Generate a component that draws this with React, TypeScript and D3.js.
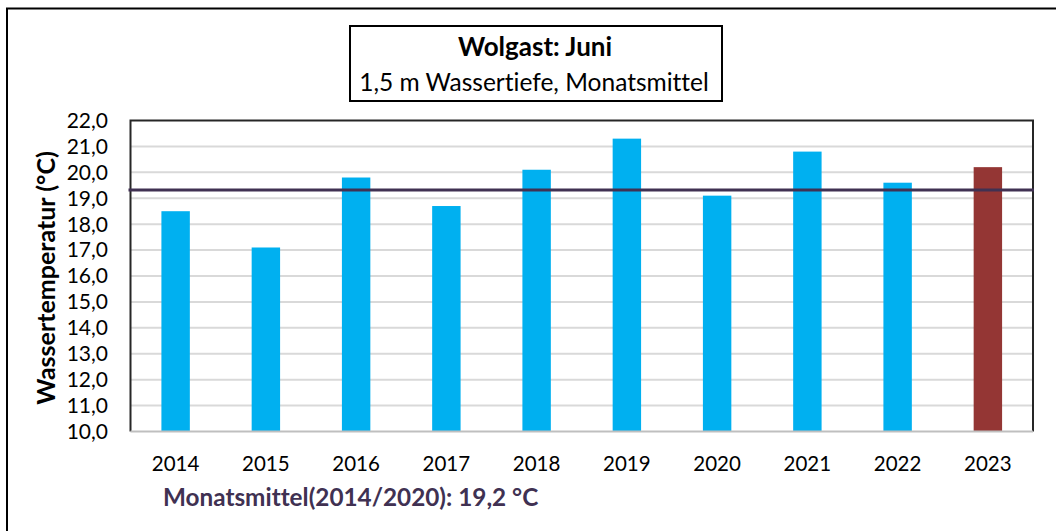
import React, { useEffect, useRef } from 'react';
import * as d3 from 'd3';

const years = ['2014', '2015', '2016', '2017', '2018', '2019', '2020', '2021', '2022', '2023'];
const temps = [18.5, 17.1, 19.8, 18.7, 20.1, 21.3, 19.1, 20.8, 19.6, 20.2];
const yTicks = [10, 11, 12, 13, 14, 15, 16, 17, 18, 19, 20, 21, 22];
const meanLine = 19.32;
const meanLabel = 'Monatsmittel(2014/2020): 19,2 °C';
const titleLines = ['Wolgast: Juni', '1,5 m Wassertiefe, Monatsmittel'];

const FONT = 'Lato, "Noto Sans", sans-serif';

const App = () => {
  const svgRef = useRef<SVGSVGElement>(null);

  useEffect(() => {
    const svg = d3.select(svgRef.current);
    svg.selectAll('*').remove();

    const W = 1056, H = 531;
    const left = 130.5, top = 120.5, right = 1033, bottom = 431.5;

    // outer frame
    svg.append('rect')
      .attr('x', 7).attr('y', 8.5).attr('width', 1100).attr('height', 600)
      .attr('fill', 'white').attr('stroke', 'black').attr('stroke-width', 2);

    const x = d3.scaleBand().domain(years).range([left, right]).paddingInner(0.685).paddingOuter(0.3425);
    const y = d3.scaleLinear().domain([10, 22]).range([bottom, top]);

    // gridlines
    svg.append('g').selectAll('line')
      .data(yTicks.filter(t => t > 10 && t < 22))
      .enter().append('line')
      .attr('x1', left).attr('x2', right)
      .attr('y1', d => y(d)).attr('y2', d => y(d))
      .attr('stroke', '#d9d9d9').attr('stroke-width', 2);

    // bars
    svg.append('g').selectAll('rect')
      .data(years)
      .enter().append('rect')
      .attr('x', d => x(d)!)
      .attr('width', x.bandwidth())
      .attr('y', (d, i) => y(temps[i]))
      .attr('height', (d, i) => y(10) - y(temps[i]))
      .attr('fill', d => (d === '2023' ? '#943634' : '#00b0f0'));

    // plot frame
    svg.append('path')
      .attr('d', `M${left},${bottom}V${top}H${right}V${bottom}`)
      .attr('fill', 'none').attr('stroke', '#262626').attr('stroke-width', 2);
    svg.append('line')
      .attr('x1', left).attr('x2', right).attr('y1', bottom).attr('y2', bottom)
      .attr('stroke', '#bfbfbf').attr('stroke-width', 2);

    // mean line
    svg.append('line')
      .attr('x1', left - 2).attr('x2', right + 1)
      .attr('y1', y(meanLine)).attr('y2', y(meanLine))
      .attr('stroke', '#403152').attr('stroke-width', 3);

    const txt = (g: any) => g.attr('font-family', FONT).style('font-variant-ligatures', 'none');

    // y tick labels
    svg.append('g').call(txt).selectAll('text')
      .data(yTicks)
      .enter().append('text')
      .attr('x', 108).attr('y', d => y(d))
      .attr('dy', '0.35em')
      .attr('text-anchor', 'end')
      .attr('font-size', 21)
      .text(d => d.toFixed(1).replace('.', ','));

    // x labels
    svg.append('g').call(txt).selectAll('text')
      .data(years)
      .enter().append('text')
      .attr('x', d => x(d)! + x.bandwidth() / 2).attr('y', 471)
      .attr('text-anchor', 'middle')
      .attr('font-size', 20.5)
      .text(d => d);

    // y axis title
    svg.append('text').call(txt)
      .attr('transform', `translate(55,278) rotate(-90)`)
      .attr('text-anchor', 'middle')
      .attr('font-size', 25).attr('font-weight', 'bold')
      .text('Wassertemperatur (°C)');

    // title box
    svg.append('rect')
      .attr('x', 350).attr('y', 26).attr('width', 372).attr('height', 75)
      .attr('fill', 'white').attr('stroke', 'black').attr('stroke-width', 2);
    svg.append('text').call(txt)
      .attr('x', 535).attr('y', 56)
      .attr('text-anchor', 'middle')
      .attr('font-size', 26).attr('font-weight', 'bold')
      .text(titleLines[0]);
    svg.append('text').call(txt)
      .attr('x', 534).attr('y', 91)
      .attr('text-anchor', 'middle')
      .attr('font-size', 24.5)
      .text(titleLines[1]);

    // mean label
    svg.append('text').call(txt)
      .attr('x', 163).attr('y', 506)
      .attr('font-size', 24.3).attr('font-weight', 'bold')
      .attr('fill', '#403152')
      .text(meanLabel);

    svg.attr('width', W).attr('height', H);
  }, []);

  return (
    <svg ref={svgRef} width={1056} height={531} style={{ position: 'absolute', left: 0, top: 0 }} />
  );
};

export default App;
